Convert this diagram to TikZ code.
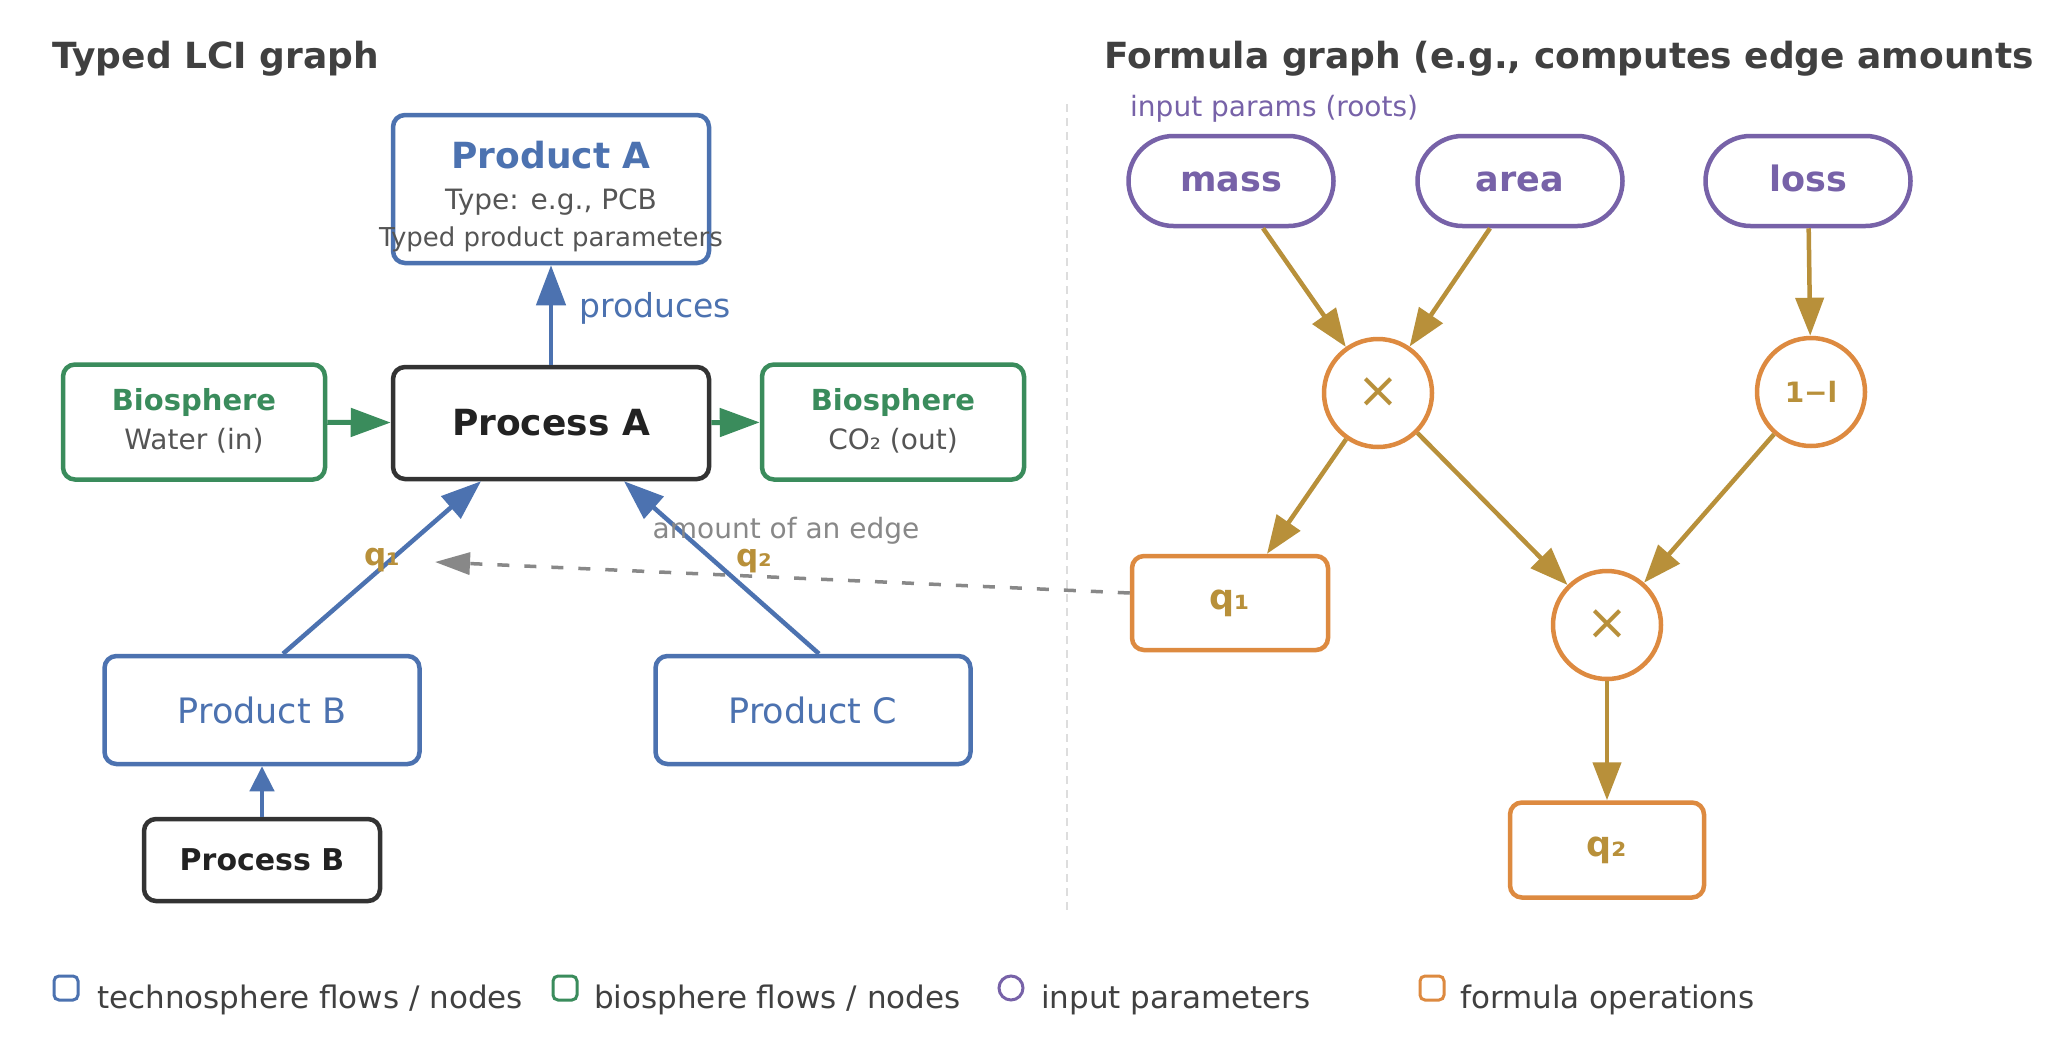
\documentclass[tikz,border=0pt]{standalone}
\usepackage{fontspec}
\setmainfont{DejaVu Sans}
\usetikzlibrary{arrows.meta}
\definecolor{tblue}{HTML}{4C72B0}
\definecolor{tgreen}{HTML}{3A8C5C}
\definecolor{tpurple}{HTML}{7762A8}
\definecolor{torange}{HTML}{DD8A40}
\definecolor{tgold}{HTML}{B8903A}
\definecolor{tdark}{HTML}{333333}
\definecolor{tblack}{HTML}{222222}
\definecolor{tgray}{HTML}{555555}
\definecolor{tlight}{HTML}{888888}
\definecolor{ttitle}{HTML}{404040}
\definecolor{tdiv}{HTML}{DDDDDD}
\newcommand\myfs[1]{\fontsize{#1}{#1}\selectfont}
\begin{document}
\begin{tikzpicture}[x=1pt,y=-1pt,
  box/.style={draw, rounded corners=12pt, line width=4.5pt, fill=white, inner sep=0pt},
  techbox/.style={box, draw=tblue},
  procbox/.style={box, draw=tdark},
  biobox/.style={box, draw=tgreen},
  outbox/.style={box, draw=torange},
  parambox/.style={draw=tpurple, line width=4.5pt, rounded corners=45pt, minimum width=205pt, minimum height=90pt, inner sep=0pt, text=tpurple, font={\myfs{35}\bfseries}, text height=21pt, text depth=0pt},
  opcircle/.style={circle, draw=torange, line width=4.5pt, minimum size=108pt, inner sep=0pt, text=tgold},
  techarrow/.style={draw=tblue, line width=4.5pt, -{Triangle[length=40pt,width=29pt]}},
  techsmall/.style={draw=tblue, line width=4.5pt, -{Triangle[length=25pt,width=24pt]}},
  bioarrow/.style={draw=tgreen, line width=5pt, -{Triangle[length=40pt,width=28pt]}},
  formarrow/.style={draw=tgold, line width=4.5pt, -{Triangle[length=38pt,width=28pt]}},
  linkarrow/.style={draw=tlight, line width=3.5pt, dash pattern=on 12pt off 15pt, -{Triangle[length=35pt,width=22pt]}},
  title/.style={anchor=base west, text=ttitle, font={\myfs{36}\bfseries}, inner sep=0pt},
  legtext/.style={anchor=base west, text=ttitle, font={\myfs{31}}, inner sep=0pt},
  legbox/.style={line width=3pt, rounded corners=5pt, minimum size=24pt, inner sep=0pt}
]
\fill[white] (0,0) rectangle (2048,1050);
\useasboundingbox (0,0) rectangle (2048,1050);

% titles
\node[title] (t1) at (52,68) {Typed LCI graph};
\node[title] (t2) at (1104,68) {Formula graph (e.g., computes edge amounts};

% divider
\draw[tdiv, line width=2pt, dash pattern=on 8pt off 6pt] (1067,104) coordinate (d1) -- (1067,914) coordinate (d2);

% ---------- left graph ----------
\node[techbox, minimum width=316pt, minimum height=148pt] (prodA) at (551,189) {};
\node[text=tblue, font={\myfs{36}\bfseries}, inner sep=0pt] (prodAt) at (551,155) {Product A};
\node[text=tgray, font={\myfs{28}}, inner sep=0pt] (prodAs) at (551,202) {Type: e.g., PCB};
\node[text=tgray, font={\myfs{26}}, inner sep=0pt] (prodAp) at (551,239) {Typed product parameters};

\node[procbox, minimum width=316pt, minimum height=112pt, text=tblack, font={\myfs{36}\bfseries}] (procA) at (551,423) {Process A};

\node[biobox, minimum width=262pt, minimum height=115pt] (water) at (194,422) {};
\node[text=tgreen, font={\myfs{29}\bfseries}, inner sep=0pt] (watert) at (194,402) {Biosphere};
\node[text=tgray, font={\myfs{28}}, inner sep=0pt] (waters) at (194,441) {Water (in)};

\node[biobox, minimum width=262pt, minimum height=115pt] (co2) at (893,422) {};
\node[text=tgreen, font={\myfs{29}\bfseries}, inner sep=0pt] (co2t) at (893,402) {Biosphere};
\node[text=tgray, font={\myfs{28}}, inner sep=0pt] (co2s) at (893,441) {CO₂ (out)};

\node[techbox, minimum width=315pt, minimum height=108pt, text=tblue, font={\myfs{35}}] (prodB) at (262,710) {Product B};
\node[techbox, minimum width=315pt, minimum height=108pt, text=tblue, font={\myfs{35}}] (prodC) at (813,710) {Product C};
\node[procbox, minimum width=236pt, minimum height=82pt, text=tblack, font={\myfs{30}\bfseries}] (procB) at (262,860) {Process B};

\draw[techarrow] (procA) -- (prodA);
\node[anchor=base west, text=tblue, font={\myfs{33}}, inner sep=0pt] (prodlbl) at (579,317) {produces};
\draw[bioarrow] (water) -- (procA);
\draw[bioarrow] (procA) -- (co2);
\draw[techarrow] ([xshift=21pt]prodB.north) -- ([xshift=-70pt]procA.south);
\draw[techarrow] ([xshift=6pt]prodC.north) -- ([xshift=73pt]procA.south);
\draw[techsmall] (procB) -- (prodB);

\node[text=tgold, font={\myfs{31}\bfseries}, inner sep=0pt] (q1lbl) at (382,560) {q₁};
\node[text=tgold, font={\myfs{31}\bfseries}, inner sep=0pt] (q2lbl) at (754,561) {q₂};
\node[text=tlight, font={\myfs{28}}, inner sep=0pt] (amtlbl) at (786,531) {amount of an edge};

% ---------- formula graph ----------
\node[anchor=base west, text=tpurple, font={\myfs{28}}, inner sep=0pt] (inlbl) at (1130,116) {input params (roots)};
\node[parambox] (mass) at (1231,181) {mass};
\node[parambox] (area) at (1520,181) {area};
\node[parambox] (loss) at (1808,181) {loss};

\node[opcircle, font={\myfs{50}}] (mult1) at (1378,393) {×};
\node[opcircle, font={\myfs{28}\bfseries}] (onem) at (1811,392) {1−l};
\node[opcircle, font={\myfs{50}}] (mult2) at (1607,625) {×};
\node[outbox, minimum width=196pt, minimum height=94pt, text=tgold, font={\myfs{35}\bfseries}] (q1box) at (1230,603) {q₁};
\node[outbox, minimum width=194pt, minimum height=95pt, text=tgold, font={\myfs{35}\bfseries}] (q2box) at (1607,850) {q₂};

\draw[formarrow] ([xshift=32pt]mass.south) -- (mult1);
\draw[formarrow] ([xshift=-30pt]area.south) -- (mult1);
\draw[formarrow] (loss) -- (onem);
\draw[formarrow] (mult1) -- ([xshift=37pt]q1box.north);
\draw[formarrow] (mult1) -- (mult2);
\draw[formarrow] (onem) -- (mult2);
\draw[formarrow] (mult2) -- (q2box);

\coordinate (q1tip) at (435,562);
\draw[linkarrow] ([yshift=10pt]q1box.west) -- (q1tip);

% ---------- legend ----------
\node[legbox, draw=tblue] (lg1) at (66,988) {};
\node[legtext] (lg1t) at (97,1008) {technosphere flows / nodes};
\node[legbox, draw=tgreen] (lg2) at (565,988) {};
\node[legtext] (lg2t) at (594,1008) {biosphere flows / nodes};
\node[legbox, circle, draw=tpurple] (lg3) at (1011,988) {};
\node[legtext] (lg3t) at (1041,1008) {input parameters};
\node[legbox, draw=torange] (lg4) at (1432,988) {};
\node[legtext] (lg4t) at (1460,1008) {formula operations};
\end{tikzpicture}
\end{document}
